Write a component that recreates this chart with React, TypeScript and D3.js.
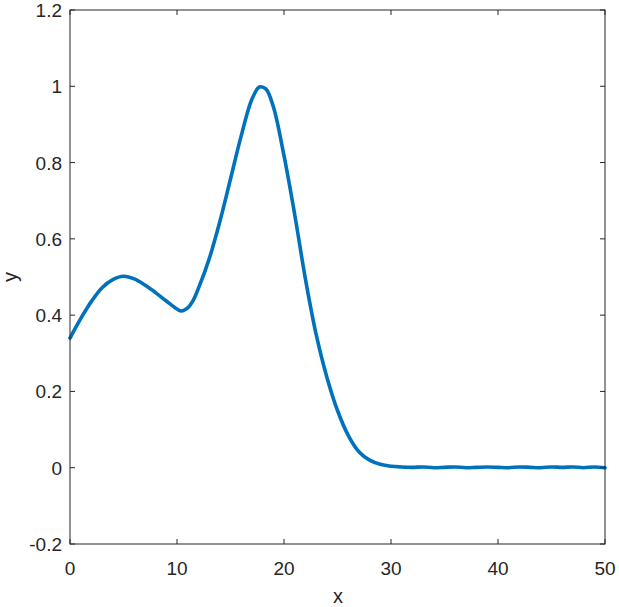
import React from "react";
import * as d3 from "d3";

const xValues = [0, 0.5, 1, 1.5, 2, 3, 4, 5, 6, 7, 8, 9, 10, 10.4, 11, 11.5, 12, 13, 14, 15, 16, 17, 17.7, 18.3, 19, 20, 21, 22, 23, 24, 25, 26, 27, 28, 29, 30, 31, 32, 33, 34, 35, 36, 37, 38, 39, 40, 41, 42, 43, 44, 45, 46, 47, 48, 49, 50];
const yValues = [0.34, 0.366, 0.391, 0.414, 0.436, 0.472, 0.493, 0.502, 0.495, 0.479, 0.459, 0.437, 0.416, 0.411, 0.419, 0.438, 0.47, 0.547, 0.645, 0.757, 0.87, 0.966, 0.998, 0.993, 0.947, 0.818, 0.664, 0.495, 0.35, 0.238, 0.15, 0.085, 0.042, 0.02, 0.009, 0.004, 0.002, 0.001, 0.002, 0.0, 0.001, 0.002, 0.0, 0.001, 0.002, 0.001, 0.0, 0.002, 0.001, 0.0, 0.002, 0.001, 0.002, 0.0, 0.002, 0.0];
const xTicks = [0, 10, 20, 30, 40, 50];
const yTicks = [-0.2, 0, 0.2, 0.4, 0.6, 0.8, 1, 1.2];

export default function App() {
  const left = 70, right = 605, top = 10, bottom = 544;
  const x = d3.scaleLinear().domain([0, 50]).range([left, right]);
  const y = d3.scaleLinear().domain([-0.2, 1.2]).range([bottom, top]);
  const pts = xValues.map((v, i) => [v, yValues[i]] as [number, number]);
  const line = d3.line<[number, number]>().x(d => x(d[0])).y(d => y(d[1])).curve(d3.curveCatmullRom.alpha(0.5));
  const axisColor = "#262626";
  const font = "Arial, 'Liberation Sans', Helvetica, sans-serif";
  const tl = 5;
  return (
    <svg width={619} height={607} style={{ position: "absolute", left: 0, top: 0 }}>
      <rect x={0} y={0} width={619} height={607} fill="#fff" />
      <path d={line(pts) || ""} fill="none" stroke="#0072BD" strokeWidth={3.6} strokeLinejoin="round" strokeLinecap="round" />
      <rect x={left} y={top} width={right - left} height={bottom - top} fill="none" stroke={axisColor} strokeWidth={1} />
      {xTicks.map(t => (
        <g key={"x" + t}>
          <line x1={x(t)} x2={x(t)} y1={bottom} y2={bottom - tl} stroke={axisColor} />
          <line x1={x(t)} x2={x(t)} y1={top} y2={top + tl} stroke={axisColor} />
          <text x={x(t)} y={575} textAnchor="middle" fontFamily={font} fontSize={19} fill={axisColor}>{String(t)}</text>
        </g>
      ))}
      {yTicks.map(t => (
        <g key={"y" + t}>
          <line x1={left} x2={left + tl} y1={y(t)} y2={y(t)} stroke={axisColor} />
          <line x1={right} x2={right - tl} y1={y(t)} y2={y(t)} stroke={axisColor} />
          <text x={62} y={y(t) + 7} textAnchor="end" fontFamily={font} fontSize={19} fill={axisColor}>{String(+t.toFixed(1))}</text>
        </g>
      ))}
      <text x={338} y={603} textAnchor="middle" fontFamily={font} fontSize={20} fill={axisColor}>x</text>
      <text transform={`translate(17,${(top + bottom) / 2}) rotate(-90)`} textAnchor="middle" fontFamily={font} fontSize={20} fill={axisColor}>y</text>
    </svg>
  );
}
